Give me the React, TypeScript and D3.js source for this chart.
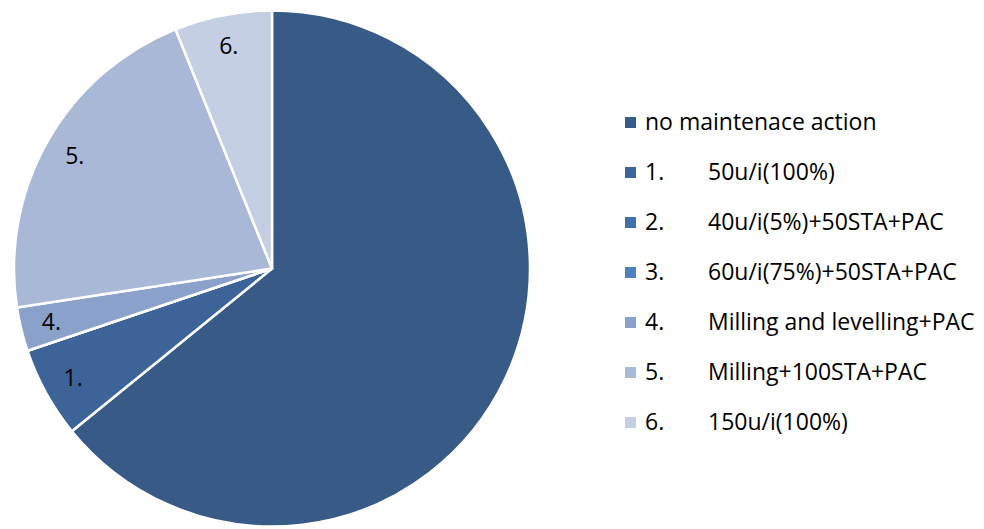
import React from "react";
import * as d3 from "d3";

const categories = ["no maintenace action", "1.", "2.", "3.", "4.", "5.", "6."];
const legendSecond = ["", "50u/i(100%)", "40u/i(5%)+50STA+PAC", "60u/i(75%)+50STA+PAC", "Milling and levelling+PAC", "Milling+100STA+PAC", "150u/i(100%)"];
const values = [64.1, 5.7, 0, 0, 2.75, 21.3, 6.1];
const colors = ["#375A87", "#3D6498", "#4370AA", "#4F81BD", "#8AA1CB", "#A9B8D6", "#C5CFE3"];

export default function App() {
  const W = 984, H = 529;
  const cx = 272, cy = 268.5, R = 258;
  const data = categories.map((c, i) => ({ c, v: values[i], i }));
  const pie = d3.pie<any>().value((d) => d.v).sort(null);
  const arcs = pie(data);
  const arc = d3.arc<any>().innerRadius(0).outerRadius(R);
  const labelArc = d3.arc<any>().innerRadius(R * 0.88).outerRadius(R * 0.88);
  const font = "'Open Sans', sans-serif";
  const fs = 23;
  return (
    <svg width={W} height={H} style={{ position: "absolute", left: 0, top: 0, background: "#fff" }}>
      <g transform={`translate(${cx},${cy})`}>
        {arcs.map((a, i) => (
          <path key={i} d={arc(a) || ""} fill={colors[i]} stroke="#fff" strokeWidth={2.5} strokeLinejoin="round" />
        ))}
        {arcs.map((a, i) => {
          if (i === 0 || a.data.v === 0) return null;
          const [x, y] = labelArc.centroid(a);
          return (
            <text key={i} x={x} y={y} dy="0.35em" textAnchor="middle" fontFamily={font} fontSize={fs} fill="#000">
              {categories[i]}
            </text>
          );
        })}
      </g>
      {categories.map((c, i) => (
        <g key={i} transform={`translate(625, ${122 + i * 50})`}>
          <rect x={0} y={-5} width={11} height={11} fill={colors[i]} />
          <text x={20} y={0} dy="0.35em" fontFamily={font} fontSize={fs} fill="#000">{c}</text>
          {legendSecond[i] && (
            <text x={83} y={0} dy="0.35em" fontFamily={font} fontSize={fs} fill="#000">{legendSecond[i]}</text>
          )}
        </g>
      ))}
    </svg>
  );
}
